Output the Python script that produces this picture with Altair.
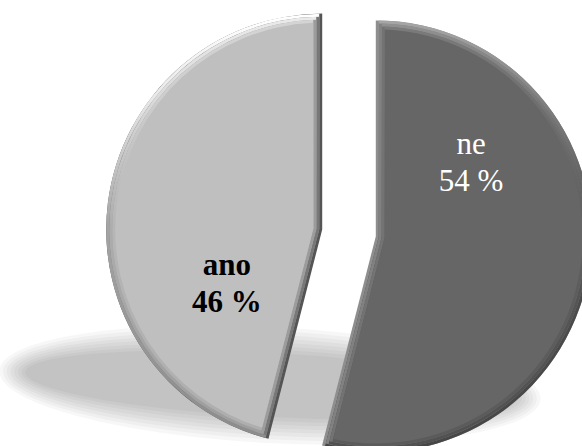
import math
import altair as alt
import pandas as pd

# Odpovědi na otázku (v procentech)
kategorie = ["ne", "ano"]
hodnoty = [54, 46]

# Rozvržení
W, H = 582, 446
CX, CY = 349, 233          # střed koláče před vysunutím výsečí
RADIUS = 216
EXPLODE = 27               # vysunutí výsečí od středu
LABEL_R = 115
LABEL_SHIFT = math.radians(-41.2)
LINE_GAP = 18.5
STEP = 3.0                 # šířka jednoho pásu zkosení
LEVELS = 3

styles = {
    "ne": dict(body="#666666", edge="#8e8e8e",
               arc=[(0.0, "#a6a6a6"), (0.2, "#7e7e7e"), (0.5, "#4e4e4e"), (1.0, "#464646")],
               text="#ffffff", weight="normal"),
    "ano": dict(body="#bfbfbf", edge="#555555",
                arc=[(0.0, "#ffffff"), (0.2, "#e8e8e8"), (0.5, "#a4a4a4"), (1.0, "#8c8c8c")],
                text="#000000", weight="bold"),
}

total = sum(hodnoty)
df = pd.DataFrame({"kategorie": kategorie, "hodnota": hodnoty,
                   "poradi": list(range(len(kategorie)))})


def lerp_hex(a, b, f):
    ca = [int(a[i:i + 2], 16) for i in (1, 3, 5)]
    cb = [int(b[i:i + 2], 16) for i in (1, 3, 5)]
    return "#" + "".join(f"{round(x + (y - x) * f):02x}" for x, y in zip(ca, cb))


base = (
    alt.Chart(df)
    .transform_joinaggregate(celkem="sum(hodnota)")
    .transform_window(kum="sum(hodnota)", sort=[alt.SortField("poradi")], frame=[None, 0])
    .transform_calculate(zacatek="(datum.kum - datum.hodnota) / datum.celkem * 100")
    .transform_calculate(konec="datum.kum / datum.celkem * 100")
    .transform_calculate(stred="(datum.kum - datum.hodnota / 2) / datum.celkem * 2 * PI")
    .transform_calculate(cx=f"{CX} + {EXPLODE} * sin(datum.stred)")
    .transform_calculate(cy=f"{CY} - {EXPLODE} * cos(datum.stred)")
    .transform_calculate(lx=f"datum.cx + {LABEL_R} * sin(datum.stred + ({LABEL_SHIFT}))")
    .transform_calculate(ly=f"datum.cy - {LABEL_R} * cos(datum.stred + ({LABEL_SHIFT}))")
    .transform_calculate(procenta="datum.hodnota + ' %'")
)

theta = alt.Theta("zacatek:Q", stack=None,
                  scale=alt.Scale(domain=[0, 100], range=[0, 2 * math.pi]))
theta2 = alt.Theta2("konec:Q")
pos_x = alt.X("cx:Q", scale=None, axis=None)
pos_y = alt.Y("cy:Q", scale=None, axis=None)


def sector(cat, inset, radius, fill, half_sin):
    props = dict(radius=radius, fill=fill, strokeWidth=0)
    if inset > 0:
        r0 = inset / half_sin * 0.98
        rp = math.hypot(r0, radius)
        props.update(innerRadius=r0, padAngle=2 * math.asin(inset / rp))
    return (
        base.transform_filter(alt.datum.kategorie == cat)
        .mark_arc(**props)
        .encode(theta=theta, theta2=theta2, x=pos_x, y=pos_y)
    )


def gradient(stops):
    return alt.LinearGradient(
        gradient="linear",
        stops=[alt.GradientStop(color=c, offset=o) for o, c in stops],
        x1=0, y1=0, x2=0, y2=1,
    )


slices = []
texts = []
for cat, val in zip(kategorie, hodnoty):
    st = styles[cat]
    half_sin = abs(math.sin(math.pi * val / total))
    for k in range(LEVELS):
        f = k / LEVELS
        r = RADIUS - k * STEP
        slices.append(sector(cat, k * STEP, r, lerp_hex(st["edge"], st["body"], f), half_sin))
        stops = [(o, lerp_hex(c, st["body"], f)) for o, c in st["arc"]]
        slices.append(sector(cat, (k + 1) * STEP, r, gradient(stops), half_sin))
    slices.append(sector(cat, LEVELS * STEP, RADIUS - LEVELS * STEP, st["body"], half_sin))

    lab = base.transform_filter(alt.datum.kategorie == cat)
    common = dict(font="Liberation Serif", fontSize=31, fontWeight=st["weight"],
                  color=st["text"], align="center", baseline="alphabetic")
    texts.append(
        lab.mark_text(dy=-LINE_GAP, **common).encode(
            x=alt.X("lx:Q", scale=None, axis=None),
            y=alt.Y("ly:Q", scale=None, axis=None),
            text="kategorie:N")
    )
    texts.append(
        lab.mark_text(dy=LINE_GAP, **common).encode(
            x=alt.X("lx:Q", scale=None, axis=None),
            y=alt.Y("ly:Q", scale=None, axis=None),
            text="procenta:N")
    )


# Měkký stín pod koláčem: několik průsvitných elips nad sebou
def ellipse_path(rx, ry, tilt_deg):
    k = 0.5523
    t = math.radians(tilt_deg)
    ct, stt = math.cos(t), math.sin(t)

    def p(x, y):
        return f"{x * ct - y * stt:.2f},{x * stt + y * ct:.2f}"

    return (
        f"M{p(-rx, 0)}"
        f"C{p(-rx, -k * ry)} {p(-k * rx, -ry)} {p(0, -ry)}"
        f"C{p(k * rx, -ry)} {p(rx, -k * ry)} {p(rx, 0)}"
        f"C{p(rx, k * ry)} {p(k * rx, ry)} {p(0, ry)}"
        f"C{p(-k * rx, ry)} {p(-rx, k * ry)} {p(-rx, 0)}Z"
    )


shadow_src = pd.DataFrame({"stin": [0]})
shadow = []
n_sh = 8
for j in range(n_sh):
    grow = 13 - j * 26 / (n_sh - 1)
    shadow.append(
        alt.Chart(shadow_src)
        .mark_point(shape=ellipse_path(258 + grow, 45 + grow, 3.0), size=4,
                    filled=True, fill="#000000", fillOpacity=0.03, opacity=1,
                    strokeWidth=0)
        .encode(x=alt.value(270), y=alt.value(385))
    )

chart = (
    alt.layer(*shadow, *slices, *texts)
    .properties(width=W, height=H, padding=0, background="#ffffff",
                autosize=alt.AutoSizeParams(type="none"))
    .configure_view(strokeWidth=0)
)

chart.save("out.html", embed_options={"renderer": "svg", "actions": False})
